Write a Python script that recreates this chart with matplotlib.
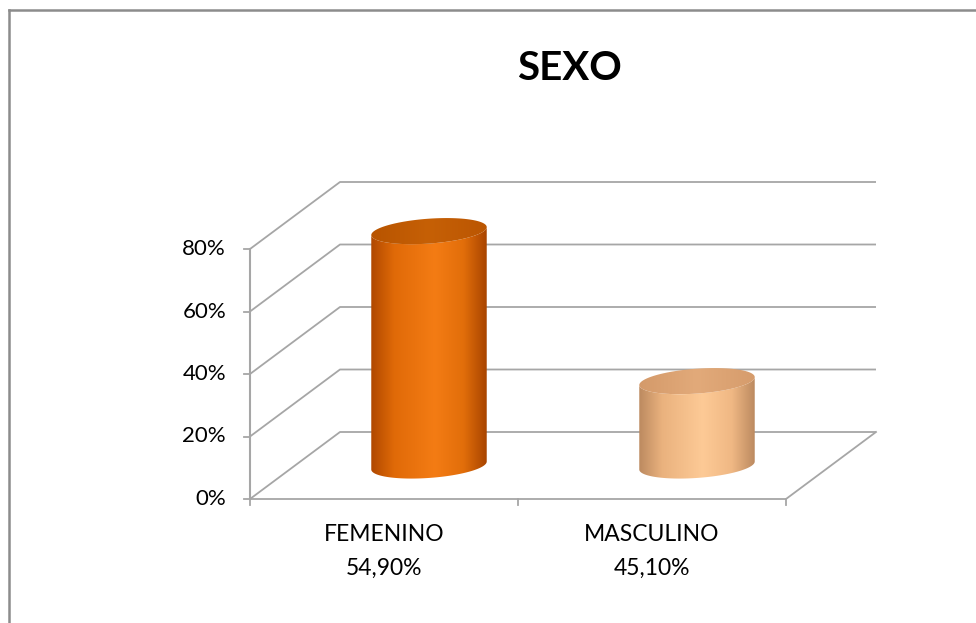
import matplotlib
matplotlib.use('Agg')
import matplotlib.pyplot as plt
import numpy as np
from matplotlib.colors import LinearSegmentedColormap
from matplotlib.patches import Polygon
from matplotlib.lines import Line2D

plt.rcParams['font.family'] = ['Lato', 'DejaVu Sans']

# data
categories = ['FEMENINO', 'MASCULINO']
pct_labels = ['54,90%', '45,10%']
bar_values = [0.75, 0.27]
y_ticks = [0.0, 0.2, 0.4, 0.6, 0.8]
y_tick_labels = ['0%', '20%', '40%', '60%', '80%']
title = 'SEXO'

body_colors = [[(0.0, '#b04800'), (0.2, '#e06a08'), (0.55, '#f47c14'), (0.8, '#e26e0a'), (1.0, '#a84400')],
               [(0.0, '#bc8a60'), (0.2, '#eab27e'), (0.55, '#fdca96'), (0.8, '#f0b884'), (1.0, '#bc8a60')]]
top_colors = [['#b85400', '#c66006', '#bb5602'],
              ['#d49a6a', '#e2aa7a', '#d69c6c']]

W, H = 976, 623
# layout (pixels)
x0_px, xs = 250, 268.0      # front axis position, px per category
y0_px, ys = 499, 312.5      # 0% line, px per unit
ddx, ddy = 90 / xs, 67 / ys  # depth shift in data units
grid_col = '#a6a6a6'

fig = plt.figure(figsize=(W / 100, H / 100), dpi=100)
ax = fig.add_axes([0, 0, 1, 1])
ax.axis('off')
xlo = -0.5 - x0_px / xs
ax.set_xlim(xlo, xlo + W / xs)
ylo = -(H - y0_px) / ys
ax.set_ylim(ylo, ylo + H / ys)

x_left, x_right = -0.5, len(categories) - 0.5

# walls and gridlines
for v in y_ticks:
    ax.plot([x_left, x_left + ddx, x_right + ddx], [v, v + ddy, v + ddy],
            color=grid_col, lw=1.3, zorder=1, solid_capstyle='butt')
# floor front edge and right edge
ax.plot([x_left, x_right, x_right + ddx], [0, 0, ddy], color=grid_col, lw=1.3, zorder=1)
# front value axis
ax.plot([x_left, x_left], [0, y_ticks[-1]], color=grid_col, lw=1.5, zorder=1)
tk = 6 / xs
for v, lab in zip(y_ticks, y_tick_labels):
    ax.plot([x_left - tk, x_left], [v, v], color=grid_col, lw=1.3, zorder=1)
    ax.text(x_left - 24 / xs, v, lab, ha='right', va='center', fontsize=16, color='#000000')
for i in range(len(categories) + 1):
    ax.plot([x_left + i, x_left + i], [0, -6 / ys], color=grid_col, lw=1.3, zorder=1)

# category labels
for i, (c, p) in enumerate(zip(categories, pct_labels)):
    ax.text(i, -(35.5 / ys), c, ha='center', va='center', fontsize=16.5)
    ax.text(i, -(69 / ys), p, ha='center', va='center', fontsize=16.5)

# cylinders
a = 55.0 / xs
b = 0.195
th0 = np.arctan2(b * ddx, a)
half_w = np.hypot(a, b * ddx)


def ellipse_pts(cx, cy, t):
    return np.column_stack([cx + a * np.cos(t) + b * ddx * np.sin(t), cy + b * ddy * np.sin(t)])


for i, val in enumerate(bar_values):
    cx = i + ddx / 2
    base = ddy / 2
    top = val + ddy / 2
    front = np.linspace(th0 + np.pi, th0 + 2 * np.pi, 100)
    bottom_arc = ellipse_pts(cx, base, front)
    top_arc = ellipse_pts(cx, top, front[::-1])
    body = Polygon(np.vstack([bottom_arc, top_arc]), closed=True, fc='none', ec='none')
    ax.add_patch(body)
    cmap = LinearSegmentedColormap.from_list('b%d' % i, body_colors[i])
    grad = np.linspace(0, 1, 256)[None, :]
    im = ax.imshow(grad, cmap=cmap, aspect='auto', zorder=3,
                   extent=[cx - half_w, cx + half_w, base - b * ddy, top + b * ddy])
    im.set_clip_path(body)
    full = np.linspace(0, 2 * np.pi, 200)
    cap = Polygon(ellipse_pts(cx, top, full), closed=True, fc='none', ec='none')
    ax.add_patch(cap)
    cmap2 = LinearSegmentedColormap.from_list('t%d' % i, top_colors[i])
    im2 = ax.imshow(grad, cmap=cmap2, aspect='auto', zorder=4,
                    extent=[cx - half_w, cx + half_w, top - b * ddy, top + b * ddy])
    im2.set_clip_path(cap)

ax.set_xlim(xlo, xlo + W / xs)
ax.set_ylim(ylo, ylo + H / ys)

fig.text(569 / W, 1 - 68 / H, title, ha='center', va='center', fontsize=29, fontweight='bold')

# chart border
fig.add_artist(Line2D([9 / W, 9 / W], [0, 1 - 10 / H], transform=fig.transFigure, color='#8c8c8c', lw=1.8))
fig.add_artist(Line2D([9 / W, 1], [1 - 10 / H, 1 - 10 / H], transform=fig.transFigure, color='#8c8c8c', lw=1.8))

fig.savefig('out.png', dpi=100)
